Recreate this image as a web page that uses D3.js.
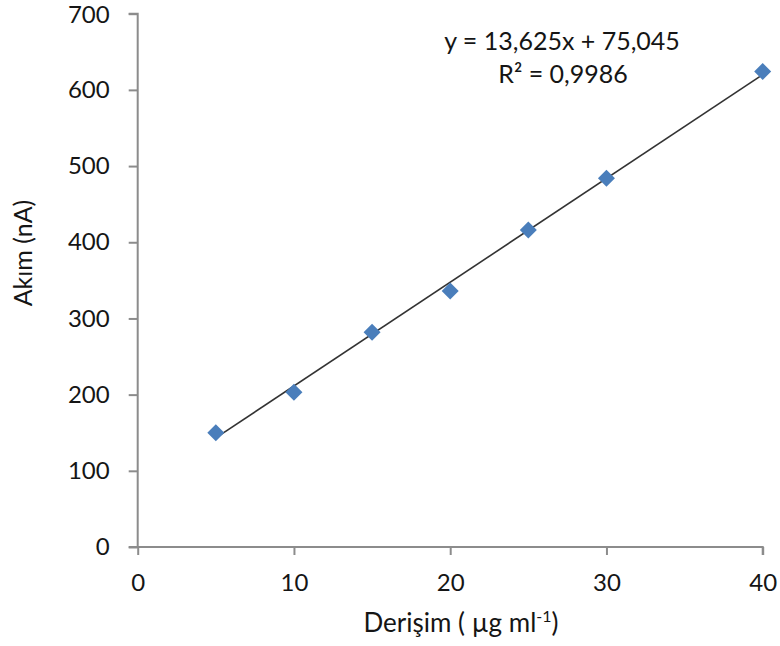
<!DOCTYPE html>
<html>
<head>
<meta charset="utf-8">
<script src="https://cdn.jsdelivr.net/npm/d3@7"></script>
<style>
  body { margin: 0; background: #fff; }
  text { font-family: Lato, "Open Sans", sans-serif; fill: #151515; }
</style>
</head>
<body>
<div id="panel"></div>
<script>
var W = 780, H = 646;

// calibration data: concentration vs current
var conc = [5, 10, 15, 20, 25, 30, 40];
var current = [150, 203, 282, 336, 416, 484, 624];
var xTicks = [0, 10, 20, 30, 40];
var yTicks = [0, 100, 200, 300, 400, 500, 600, 700];
var slope = 13.625, intercept = 75.045;
var eqText = 'y = 13,625x + 75,045';
var r2Text = 'R² = 0,9986';

var svg = d3.select('#panel').append('svg').attr('width', W).attr('height', H);

var x = d3.scaleLinear().domain([0, 40]).range([137.7, 762.7]);
var y = d3.scaleLinear().domain([0, 700]).range([547, 13.7]);

var axisColor = '#8c8c8c';
var fs = 24;

var gx = svg.append('g').attr('transform', 'translate(0,' + y(0) + ')')
  .call(d3.axisBottom(x).tickValues(xTicks).tickSize(8).tickPadding(19).tickFormat(d3.format('d')));
var gy = svg.append('g').attr('transform', 'translate(' + x(0) + ',0)')
  .call(d3.axisLeft(y).tickValues(yTicks).tickSize(9).tickPadding(19).tickFormat(d3.format('d')));

[gx, gy].forEach(function (g) {
  g.select('.domain').attr('stroke', axisColor).attr('stroke-width', 2);
  g.selectAll('.tick line').attr('stroke', axisColor).attr('stroke-width', 2);
  g.selectAll('.tick text').attr('font-size', fs).style('fill', '#151515')
    .attr('font-family', 'Lato, sans-serif');
});
gx.select('.domain').attr('d', 'M' + (x(0) - 9) + ',0H' + x(40) + 'V8');
gy.select('.domain').attr('d', 'M-9,' + y(700) + 'H0V' + y(0));
// keep the top label clear of the edge
gy.selectAll('.tick text').filter(function (d) { return d === 700; }).attr('dy', '0.36em');

// linear trendline from the fitted equation
svg.append('line')
  .attr('x1', x(5)).attr('y1', y(slope * 5 + intercept))
  .attr('x2', x(40)).attr('y2', y(slope * 40 + intercept))
  .attr('stroke', '#333').attr('stroke-width', 1.6);

var pts = conc.map(function (c, i) { return { c: c, v: current[i] }; });
svg.selectAll('path.pt')
  .data(pts)
  .enter()
  .append('path')
  .attr('class', 'pt')
  .attr('d', 'M0,-8.5L8.5,0L0,8.5L-8.5,0Z')
  .attr('transform', function (d) { return 'translate(' + x(d.c) + ',' + y(d.v) + ')'; })
  .attr('fill', '#4a7ebb');

svg.append('text').attr('x', 562).attr('y', 50).attr('text-anchor', 'middle')
  .attr('font-size', 25).text(eqText);
svg.append('text').attr('x', 563).attr('y', 83).attr('text-anchor', 'middle')
  .attr('font-size', 25).text(r2Text);

var xl = svg.append('text').attr('x', 461).attr('y', 632).attr('text-anchor', 'middle')
  .attr('font-size', 26);
xl.append('tspan').text('Derişim ( µg ml');
xl.append('tspan').attr('font-size', 16).attr('dy', -10).text('-1');
xl.append('tspan').attr('dy', 10).text(')');

svg.append('text').attr('transform', 'translate(32,253) rotate(-90)')
  .attr('text-anchor', 'middle').attr('font-size', 25).text('Akım (nA)');
</script>
</body>
</html>
